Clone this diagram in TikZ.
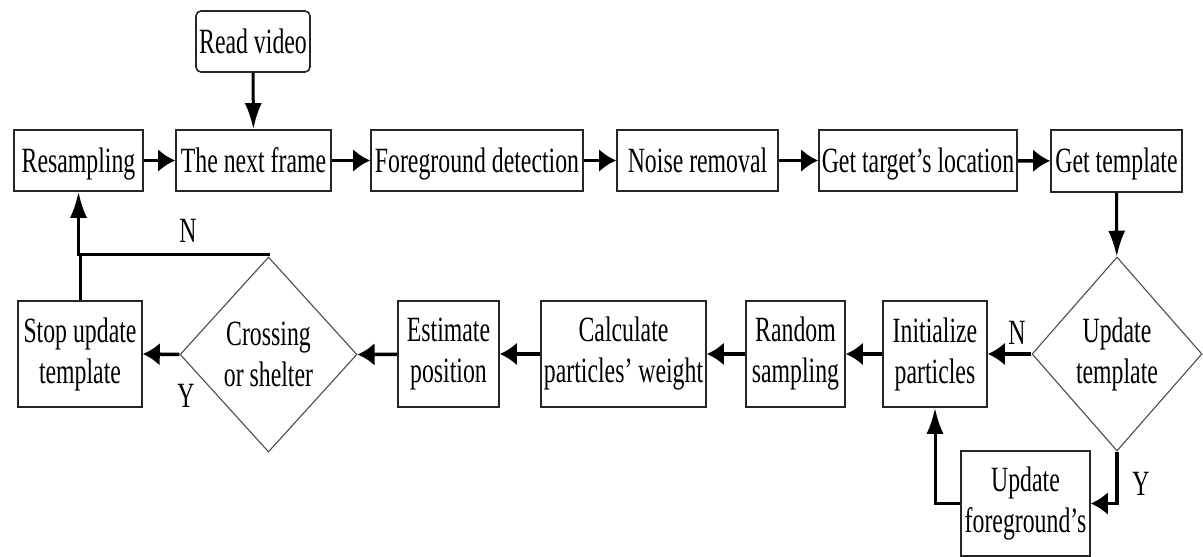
\documentclass[tikz,border=0pt]{standalone}
\usepackage{fontspec}
\setmainfont[FakeStretch=0.67]{Liberation Serif}
\usetikzlibrary{shapes.geometric,arrows.meta}
\begin{document}
\begin{tikzpicture}[x=1pt,y=-1pt,
  every node/.style={font=\fontsize{35.5pt}{41pt}\selectfont, inner sep=0pt, align=center, text=black},
  box/.style={draw=black!85, line width=1.6pt, rectangle},
  one/.style={text height=26pt, text depth=3pt},
  dec/.style={draw=black!70, line width=1.1pt, shape=diamond, aspect=1},
  hconn/.style={draw=black, line width=3.5pt, -{Latex[length=17pt,width=23pt]}},
  vconn/.style={draw=black, line width=3pt, -{Latex[length=26pt,width=17pt]}},
  plainline/.style={draw=black, line width=3pt},
  lbl/.style={font=\fontsize{35.5pt}{41pt}\selectfont}
]
\useasboundingbox[fill=white] (0,0) rectangle (1203,557);

% top row
\node[box, one, minimum width=129pt, minimum height=61pt] (resamp) at (78.5,160.5) {Resampling};
\node[box, one, minimum width=155pt, minimum height=61pt] (next) at (253.5,160.5) {The next frame};
\node[box, one, minimum width=212pt, minimum height=61pt] (fg) at (477,160.5) {Foreground detection};
\node[box, one, minimum width=161pt, minimum height=61pt] (noise) at (697.5,160.5) {Noise removal};
\node[box, one, minimum width=198pt, minimum height=61pt] (loc) at (918,160.5) {Get target’s location};
\node[box, one, minimum width=131pt, minimum height=62pt] (tmpl) at (1116.5,161) {Get template};
\node[box, one, rounded corners=5pt, minimum width=114pt, minimum height=61pt] (read) at (253,41.5) {Read video};

% decisions
\node[dec, minimum width=170pt, minimum height=194pt] (upd) at (1117,354) {Update\\template};
\node[dec, minimum width=177pt, minimum height=195pt] (cross) at (268.5,354.5) {Crossing\\or shelter};

% bottom row
\node[box, minimum width=124pt, minimum height=106pt] (stop) at (80,354) {Stop update\\template};
\node[box, minimum width=101pt, minimum height=106pt] (est) at (448.5,354) {Estimate\\position};
\node[box, minimum width=165pt, minimum height=106pt] (calc) at (623.5,354) {Calculate\\particles’ weight};
\node[box, minimum width=99pt, minimum height=106pt] (rand) at (795.5,354) {Random\\sampling};
\node[box, minimum width=104pt, minimum height=106pt] (init) at (935,354) {Initialize\\particles};
\node[box, minimum width=129pt, minimum height=105pt] (ufg) at (1025.5,503.5) {Update\\foreground’s};

% connectors top row
\draw[hconn] (resamp) -- (next);
\draw[hconn] (next) -- (fg);
\draw[hconn] (fg) -- (noise);
\draw[hconn] (noise) -- (loc);
\draw[hconn] (loc) -- (tmpl);
\draw[vconn] (read) -- (next);
\draw[vconn] (tmpl) -- (upd);

% bottom row
\draw[hconn] (upd.west) -- (init.east);
\draw[hconn] (init) -- (rand);
\draw[hconn] (rand) -- (calc);
\draw[hconn] (calc) -- (est);
\draw[hconn] (est) -- (cross.east);
\draw[hconn] (cross.west) -- (stop.east);

\draw[hconn] (upd.south) |- (ufg.east);
\draw[vconn] (ufg.west) -| (init.south);

\coordinate (jn) at (78.5,254);
\draw[vconn] (cross.north) -- (cross.north |- jn) -- (jn) -- (resamp.south);
\draw[plainline] (stop.north) -- (stop.north |- jn);

% labels
\node[lbl] (nA) at (188,231) {N};
\node[lbl] (yA) at (186,396) {Y};
\node[lbl] (nB) at (1017,333) {N};
\node[lbl] (yB) at (1141,484) {Y};
\end{tikzpicture}
\end{document}
